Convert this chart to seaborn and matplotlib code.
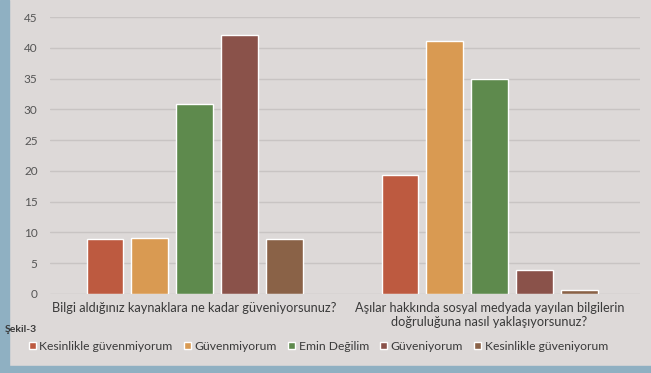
import matplotlib
matplotlib.use("Agg")
import matplotlib.pyplot as plt
import seaborn as sns
import pandas as pd
from matplotlib.patches import Rectangle

# Survey questions (x categories)
questions = [
    "Bilgi aldığınız kaynaklara ne kadar güveniyorsunuz?",
    "Aşılar hakkında sosyal medyada yayılan bilgilerin\ndoğruluğuna nasıl yaklaşıyorsunuz?",
]
# Answer options (hue)
answers = [
    "Kesinlikle güvenmiyorum",
    "Güvenmiyorum",
    "Emin Değilim",
    "Güveniyorum",
    "Kesinlikle güveniyorum",
]
# Percentages per answer for each question
q1_values = [8.9, 9.1, 30.9, 42.1, 9.0]
q2_values = [19.3, 41.2, 35.0, 3.9, 0.6]

colors = ["#BD5A40", "#D99A52", "#5E8A4D", "#8A524A", "#8A6247"]
y_ticks = [0, 5, 10, 15, 20, 25, 30, 35, 40, 45]

df = pd.DataFrame({
    "soru": [questions[0]] * len(answers) + [questions[1]] * len(answers),
    "cevap": answers * 2,
    "yuzde": q1_values + q2_values,
})

sns.set_theme(style="white")
plt.rcParams["font.family"] = ["Lato", "DejaVu Sans"]

paper = "#DDD9D8"
fig = plt.figure(figsize=(6.51, 3.73), dpi=100, facecolor=paper)
ax = fig.add_axes([0.077, 0.212, 0.906, 0.742])
ax.set_facecolor(paper)

sns.barplot(
    data=df, x="soru", y="yuzde", hue="cevap",
    order=questions, hue_order=answers, palette=colors,
    width=0.76, gap=0.18, saturation=1, ax=ax, legend=True,
)

ax.set_ylim(0, 45)
ax.set_yticks(y_ticks)
ax.set_xlim(-0.49, 1.51)
ax.yaxis.grid(True, color="#C8C4C3", linewidth=1.0)
ax.set_axisbelow(True)
for s in ax.spines.values():
    s.set_visible(False)
ax.tick_params(axis="y", length=0, pad=9, labelsize=8.5, labelcolor="#555555")
ax.tick_params(axis="x", length=0, pad=6, labelsize=9.2, labelcolor="#3A3A3A")
ax.set_xlabel("")
ax.set_ylabel("")

leg = ax.legend(
    loc="upper left", bbox_to_anchor=(-0.055, -0.13), ncol=5, frameon=False,
    fontsize=8.7, handlelength=0.6, handleheight=0.6, handletextpad=0.3,
    columnspacing=0.9, labelcolor="#3A3A3A",
)

fig.text(0.008, 0.11, "Şekil-3", fontsize=7.5, fontweight="bold", color="#3A3A3A")

# Blue edge strips around the page
fig.patches.append(Rectangle((0, 0), 0.014, 1, transform=fig.transFigure,
                             color="#8FB0C2", zorder=-1))
fig.patches.append(Rectangle((0, 0), 1, 0.02, transform=fig.transFigure,
                             color="#8FB0C2", zorder=-1))

fig.savefig("out.png", dpi=100, facecolor=paper)
